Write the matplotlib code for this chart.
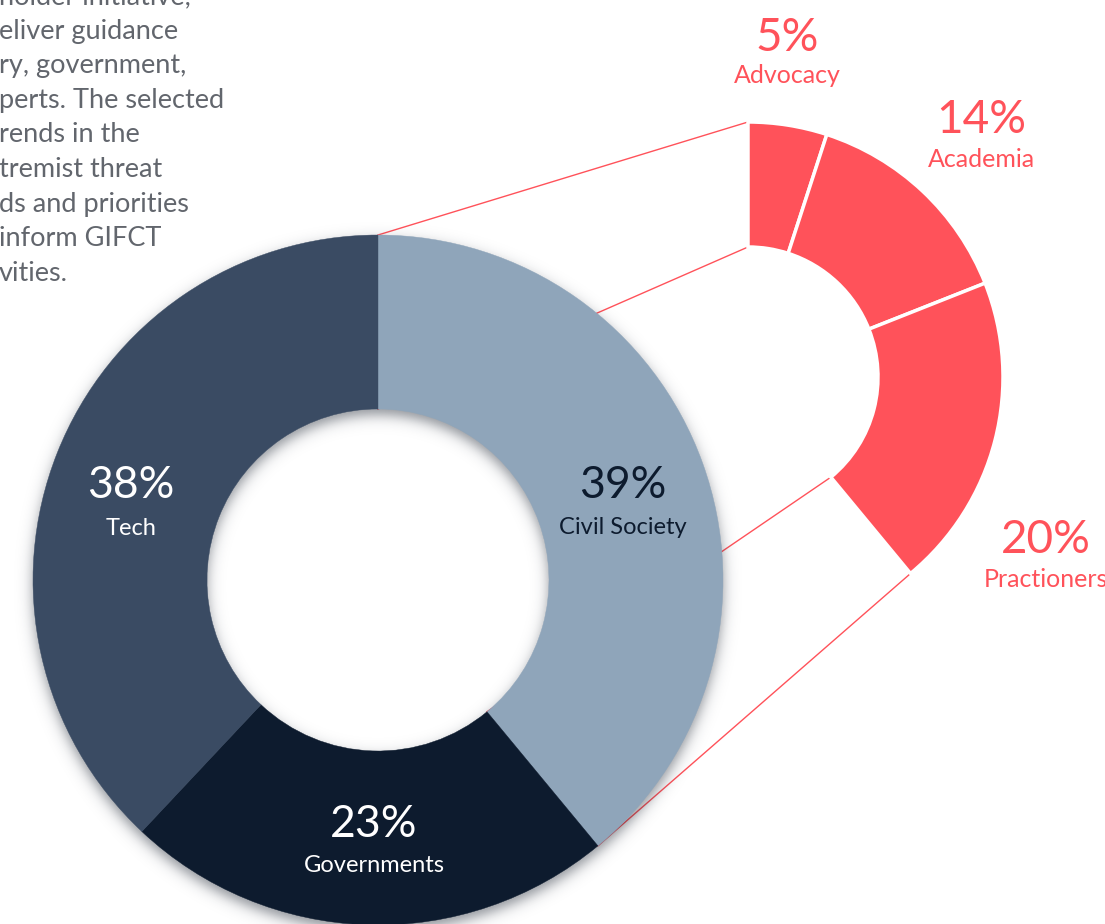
import numpy as np
import matplotlib.pyplot as plt
from matplotlib.patches import Wedge

plt.rcParams['font.family'] = ['Lato', 'DejaVu Sans']

# data
main_labels = ["Civil Society", "Governments", "Tech"]
main_shares = [39, 23, 38]
sub_labels = ["Advocacy", "Academia", "Practioners"]
sub_shares = [5, 14, 20]

main_colors = ["#8FA5BA", "#0D1B2E", "#3A4B63"]
main_text_colors = ["#0D1B2E", "white", "white"]
red = "#FF525A"

intro_lines = ["holder initiative,", "eliver guidance", "ry, government,",
               "perts. The selected", "rends in the", "tremist threat",
               "ds and priorities", "inform GIFCT", "vities."]

W, H = 1105, 924


def up(y):
    # picture rows (top down) -> axes y (bottom up)
    return H - y


fig = plt.figure(figsize=(W / 100, H / 100), dpi=100)
ax = fig.add_axes([0, 0, 1, 1])
ax.set_xlim(0, W)
ax.set_ylim(0, H)
ax.axis("off")

main_c = np.array([378.0, up(580)])
R_out, R_in = 345, 171
sub_c = np.array([748.0, up(377)])
r_out, r_in = 255, 130

# main donut, clockwise from the top
start = 90
main_angles = []
for share, col in zip(main_shares, main_colors):
    t1 = start - share * 3.6
    ax.add_patch(Wedge(main_c, R_out, t1, start, width=R_out - R_in,
                       facecolor=col, edgecolor=col, lw=0.3, zorder=3))
    main_angles.append((t1, start))
    start = t1

# breakdown of civil society
start = 90
for share in sub_shares:
    t1 = start - share * 3.6
    ax.add_patch(Wedge(sub_c, r_out, t1, start, width=r_out - r_in,
                       facecolor=red, edgecolor="white", lw=2.5, zorder=3))
    start = t1

# connector lines between the two
civ_lo, civ_hi = main_angles[0]
for th in (civ_hi, civ_lo):
    u = np.array([np.cos(np.radians(th)), np.sin(np.radians(th))])
    for rs, rm in ((r_out, R_out), (r_in, R_in)):
        p1 = sub_c + rs * u
        p2 = main_c + rm * u
        ax.plot([p1[0], p2[0]], [p1[1], p2[1]], color=red, lw=1.0, zorder=1)

# soft drop shadow under the main donut
yy, xx = np.mgrid[0:H, 0:W] + 0.5
dist = np.hypot(xx - main_c[0], yy - (main_c[1] - 6))
d = np.maximum(dist - R_out, R_in - dist)
alpha = 0.5 / (1 + np.exp(np.clip(d / 4.0, -50, 50)))
shadow = np.zeros((H, W, 4))
shadow[..., 0] = 0.12
shadow[..., 1] = 0.15
shadow[..., 2] = 0.20
shadow[..., 3] = alpha
ax.imshow(shadow, extent=(0, W, 0, H), origin="lower", zorder=2,
          interpolation="bilinear", aspect="auto")

# labels
main_pos = [(623, 498, 534), (374, 837, 872), (131, 498, 535)]
for lab, share, tc, (x, yb1, yb2) in zip(main_labels, main_shares, main_text_colors, main_pos):
    ax.text(x, up(yb1), f"{share}%", ha="center", va="baseline",
            fontsize=32, color=tc, zorder=5)
    ax.text(x, up(yb2), lab, ha="center", va="baseline",
            fontsize=17, color=tc, zorder=5)

sub_pos = [(787, 51, 83), (981, 133, 167), (1046, 553, 587)]
for lab, share, (x, yb1, yb2) in zip(sub_labels, sub_shares, sub_pos):
    ax.text(x, up(yb1), f"{share}%", ha="center", va="baseline",
            fontsize=33, color=red, zorder=5)
    ax.text(x, up(yb2), lab, ha="center", va="baseline",
            fontsize=18, color=red, zorder=5)

# cut-off intro paragraph
for i, line in enumerate(intro_lines):
    ax.text(-1, up(4 + 34.6 * i), line, ha="left", va="baseline",
            fontsize=19.5, color="#62666d", zorder=5)

fig.savefig("out.png", dpi=100)
